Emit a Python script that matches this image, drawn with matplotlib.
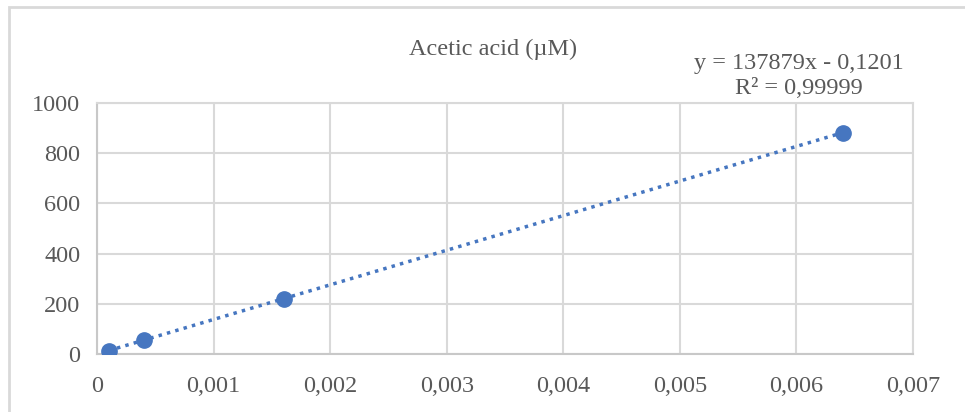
import matplotlib
matplotlib.use('Agg')
import matplotlib.pyplot as plt
import numpy as np
from matplotlib.patches import Rectangle
from matplotlib.ticker import FuncFormatter, MultipleLocator

plt.rcParams['font.family'] = 'serif'
plt.rcParams['font.serif'] = ['Liberation Serif', 'DejaVu Serif']

# data
conc = [0.0001, 0.0004, 0.0016, 0.0064]
signal = [13, 55, 221, 882]
title = 'Acetic acid (\u00b5M)'
eq_text = 'y = 137879x - 0,1201\nR\u00b2 = 0,99999'

blue = '#4676C0'
grid_col = '#d9d9d9'
text_col = '#595959'

fig = plt.figure(figsize=(9.65, 4.12), dpi=100)
ax = fig.add_axes([97 / 965, 58 / 412, 816 / 965, 251 / 412])

# outer chart frame (cut off on right/bottom like the screenshot)
fig.patches.append(Rectangle((9 / 965, -0.1), 1.2, (412 - 7) / 412 + 0.1,
                             transform=fig.transFigure, fill=False,
                             edgecolor=grid_col, linewidth=2))

# linear trendline over data range
coef = np.polyfit(conc, signal, 1)
xs = np.array([min(conc), max(conc)])
ax.plot(xs, np.polyval(coef, xs), linestyle=(0, (1, 1.5)), color=blue,
        linewidth=2.5, zorder=2)
ax.plot(conc, signal, 'o', color=blue, markersize=11, zorder=3)

ax.set_xlim(0, 0.007)
ax.set_ylim(0, 1000)
ax.xaxis.set_major_locator(MultipleLocator(0.001))
ax.yaxis.set_major_locator(MultipleLocator(200))
fmt = lambda v, pos: '0' if abs(v) < 1e-12 else ('%g' % round(v, 6)).replace('.', ',')
ax.xaxis.set_major_formatter(FuncFormatter(fmt))
ax.grid(True, color=grid_col, linewidth=1.5)
ax.set_axisbelow(True)
for s in ax.spines.values():
    s.set_color(grid_col)
    s.set_linewidth(1.5)
ax.spines['left'].set_color('#c8c8c8')
ax.spines['bottom'].set_color('#c8c8c8')
ax.tick_params(length=0, labelsize=17.5, labelcolor=text_col)
ax.tick_params(axis='x', pad=16)
ax.tick_params(axis='y', pad=12)

fig.text(493 / 965, 1 - 49 / 412, title, ha='center', va='center',
         fontsize=17.5, color=text_col)
fig.text(799 / 965, 1 - 76 / 412, eq_text, ha='center', va='center',
         fontsize=17.5, color=text_col, linespacing=1.3)

fig.savefig('out.png', dpi=100)
